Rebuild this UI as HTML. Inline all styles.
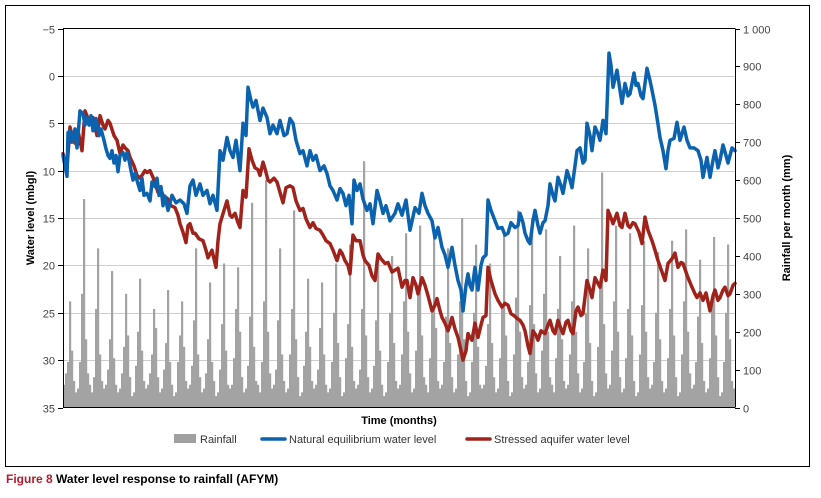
<!DOCTYPE html>
<html><head><meta charset="utf-8"><style>
body{margin:0;background:#fff;}
svg{display:block;font-family:"Liberation Sans",sans-serif;}
</style></head><body>
<svg id="chart" width="821" height="498" viewBox="0 0 821 498" xmlns="http://www.w3.org/2000/svg">
<rect x="5.5" y="5.5" width="804" height="461" fill="none" stroke="#000" stroke-width="1"/>
<g id="grid"></g>
<g id="bars"></g>
<g id="lines"></g>
<g id="axes"></g>
<text x="34" y="218" transform="rotate(-90 34 218)" text-anchor="middle" font-size="11" font-weight="bold">Water level (mbgl)</text>
<text x="790" y="218" transform="rotate(-90 790 218)" text-anchor="middle" font-size="11" font-weight="bold">Rainfall per month (mm)</text>
<text x="399" y="424" text-anchor="middle" font-size="11" font-weight="bold">Time (months)</text>
<g>
<g><rect x="174" y="434" width="22" height="9" fill="#a0a0a0"/><text x="200" y="443" font-size="11" fill="#333">Rainfall</text></g>
<g><line x1="262" y1="439" x2="285" y2="439" stroke="#0b62ae" stroke-width="3.5" stroke-linecap="round"/><text x="289" y="443" font-size="11" fill="#333">Natural equilibrium water level</text></g>
<g><line x1="467" y1="439" x2="490" y2="439" stroke="#a0231b" stroke-width="3.5" stroke-linecap="round"/><text x="494" y="443" font-size="11" fill="#333">Stressed aquifer water level</text></g>
</g>
<text x="6" y="483" font-size="12" font-weight="bold"><tspan fill="#b01c2e">Figure 8</tspan> Water level response to rainfall (AFYM)</text>
</svg>
<script>
const leftTicks=[-5,0,5,10,15,20,25,30,35];
const rightTicks=[0,100,200,300,400,500,600,700,800,900,1000];
const rightTickLabels=["0","100","200","300","400","500","600","700","800","900","1 000"];
const rainfall=[60,90,120,280,150,70,40,50,120,300,550,180,90,60,40,80,260,420,140,70,50,60,100,180,360,130,60,40,50,90,160,300,190,80,30,40,110,200,340,150,70,50,60,90,140,260,210,80,40,50,100,170,310,120,60,30,40,120,190,280,160,70,50,60,110,230,420,140,80,40,50,90,180,330,120,70,30,40,100,220,380,150,60,50,60,130,260,370,200,80,40,50,110,240,540,160,70,60,40,120,280,600,200,90,50,60,100,230,420,140,70,40,50,140,260,520,180,80,30,40,110,200,340,160,70,50,60,100,210,330,140,60,40,50,120,250,380,170,80,30,40,130,220,430,160,70,50,60,100,260,650,190,80,40,50,110,230,390,150,60,30,40,120,250,400,170,70,50,60,140,280,460,200,90,40,50,150,300,480,190,80,60,40,130,260,470,210,70,50,60,120,240,420,170,80,40,50,140,280,500,180,70,30,40,120,250,430,160,60,50,60,110,220,380,170,80,40,50,130,260,460,190,70,30,40,140,290,520,200,80,50,60,120,270,500,220,90,40,50,150,300,470,200,80,60,40,130,260,400,180,70,50,60,140,280,480,200,90,40,50,120,250,420,170,70,30,40,160,320,620,220,90,50,60,150,280,480,200,80,40,50,130,260,460,190,70,30,40,140,270,440,200,80,50,60,120,250,410,180,70,40,50,130,260,440,190,80,30,40,140,280,470,200,90,50,60,120,240,390,170,70,40,50,130,270,450,190,80,30,40,120,250,430,180,70,50];
const naturalT=[0,4,5,7,9,12,14,17,20,22,24,26,28,30,33,36,38,41,43,45,47,49,51,53,55,57,60,62,64,66,68,70,72,75,77,79,81,84,87,89,92,94,96,98,100,102,105,109,113,117,121,124,127,130,133,137,140,144,147,150,154,157,160,164,167,170,173,177,180,183,185,188,190,193,197,200,204,207,210,214,217,221,224,227,230,233,237,240,244,247,250,253,257,261,264,267,270,274,277,280,283,286,289,291,294,297,300,304,307,310,314,317,320,323,327,332,335,339,343,347,352,356,359,362,365,369,372,375,379,382,385,389,392,395,398,400,403,405,407,409,412,415,418,420,423,425,428,432,435,439,442,445,448,452,455,457,460,462,465,467,470,472,475,477,480,482,485,487,490,492,495,498,500,504,507,509,512,514,517,520,522,524,527,529,532,535,537,540,543,546,548,550,554,557,559,562,565,567,571,573,575,578,580,584,587,589,592,594,597,600,603,605,607,611,614,617,621,624,627,631,635,638,640,644,647,650,652,655,657,660,663,665,669,672];
const naturalV=[8.4,10.6,6.0,5.8,7.0,5.6,7.6,3.7,4.0,5.2,4.4,5.2,4.2,5.8,4.5,6.3,5.6,6.8,7.7,8.4,8.7,7.9,9.2,8.4,10.1,8.4,8.1,8.9,8.1,8.9,10.0,11.0,10.3,11.4,12.1,10.8,12.6,12.4,13.2,11.2,11.7,10.8,12.6,11.7,13.7,12.7,14.2,12.6,13.4,13.1,13.5,14.5,11.6,11.0,12.6,11.4,12.6,12.1,13.5,12.6,14.2,7.9,8.9,6.5,7.9,8.6,6.8,10.0,5.0,6.3,1.2,2.6,3.3,2.6,4.7,3.4,4.4,6.1,5.2,6.1,4.7,6.3,6.1,4.5,5.0,6.8,8.2,7.9,9.5,7.9,8.9,8.4,10.0,9.5,10.3,11.6,12.1,13.1,11.9,12.4,13.7,12.6,15.6,11.0,12.1,11.4,13.0,14.2,13.5,15.6,12.1,13.2,14.5,13.7,15.3,14.5,13.5,14.7,13.1,16.3,13.9,14.5,12.4,13.7,14.5,15.3,17.1,16.0,18.1,18.9,20.2,18.1,20.0,21.6,22.6,24.8,22.1,20.9,22.1,22.6,20.2,22.6,20.0,19.2,18.9,13.1,14.2,15.3,16.1,16.0,16.8,16.6,15.5,16.0,15.8,14.5,15.5,16.6,17.4,17.7,15.3,14.2,15.8,16.6,15.5,15.3,13.7,11.4,12.6,13.2,10.7,11.6,12.4,10.0,11.0,11.8,9.5,7.9,7.6,9.2,8.9,5.0,6.3,7.9,5.4,6.1,6.8,4.7,6.1,-2.4,-1.1,1.2,-0.6,1.5,2.9,0.8,2.1,1.9,-0.3,1.0,0.8,2.1,2.4,-0.8,0.5,1.5,3.1,4.4,6.5,7.9,9.8,7.9,6.8,6.6,4.9,6.8,5.4,6.8,7.6,7.6,7.9,8.9,10.7,8.6,10.7,8.9,7.9,9.7,8.9,7.3,8.4,9.2,7.6,7.9];
const stressedT=[0,4,7,10,12,15,19,22,25,27,30,34,37,40,42,45,47,51,54,57,60,62,65,67,71,74,77,79,82,84,87,90,93,95,99,102,104,108,112,115,117,120,123,125,127,130,132,136,140,143,145,149,153,155,157,161,164,167,169,172,175,177,180,183,186,189,192,195,197,200,202,205,207,211,214,217,220,223,227,230,233,237,240,243,247,250,253,257,260,263,267,270,274,277,279,282,285,287,290,293,297,300,302,306,309,312,315,318,322,325,329,332,335,339,342,344,347,350,353,355,359,362,365,369,372,374,377,379,382,385,387,389,392,395,398,400,403,405,407,409,412,415,418,420,423,425,428,432,435,439,442,445,448,451,454,457,460,462,465,467,470,473,475,478,482,485,487,490,492,495,498,500,503,505,508,510,513,515,518,520,524,527,529,532,535,537,540,543,545,548,550,554,557,559,562,565,567,570,572,576,579,582,585,589,592,595,599,602,605,609,612,615,618,620,623,625,629,632,634,637,640,643,647,650,652,655,657,660,662,665,667,670,672];
const stressedV=[8.2,9.7,5.4,6.8,7.1,5.8,7.9,3.7,4.5,5.0,4.4,6.3,4.2,5.2,5.6,4.7,5.0,6.3,6.8,8.2,7.3,7.6,7.9,8.6,9.5,10.5,10.8,10.5,10.0,10.2,10.0,10.7,11.6,12.3,12.3,13.2,12.9,13.7,13.9,14.7,15.6,16.5,17.6,15.8,15.6,16.6,16.6,17.2,17.4,18.4,19.2,18.4,20.2,17.4,15.6,14.2,13.2,14.7,14.9,14.5,15.5,16.0,12.1,12.8,7.7,8.9,9.7,9.9,10.5,9.1,9.8,11.0,11.2,10.8,11.2,12.3,13.4,11.8,11.6,11.8,13.2,14.2,14.0,15.1,16.0,15.5,16.1,16.3,16.8,17.4,17.7,18.4,19.5,18.4,18.7,19.5,20.0,20.9,16.8,17.4,17.4,18.9,19.5,20.0,21.1,21.6,18.8,19.3,19.8,19.7,20.7,20.5,20.3,22.3,21.6,21.6,23.4,21.3,22.1,23.0,21.3,22.1,23.2,24.8,24.2,23.5,24.8,25.5,26.1,26.9,26.3,25.5,26.7,27.6,29.0,30.0,29.0,27.2,27.6,27.9,26.1,27.6,26.3,25.5,25.3,20.2,21.6,23.0,23.7,24.4,24.0,24.2,25.1,25.3,25.6,25.8,26.3,26.9,28.5,29.3,26.9,27.4,27.9,26.9,27.2,26.3,25.8,26.9,27.2,25.8,26.7,27.2,26.0,25.8,26.9,27.2,24.8,24.4,25.3,25.1,21.6,22.6,23.4,21.3,21.9,22.3,20.5,21.6,14.2,15.0,15.6,14.5,15.8,16.0,14.5,15.8,16.0,15.5,15.6,16.5,17.7,14.9,16.3,17.4,18.4,19.5,20.7,21.6,19.8,19.3,18.7,20.2,19.7,19.8,20.7,21.3,22.3,23.0,23.4,22.9,23.7,22.9,24.8,23.2,22.6,23.7,23.4,22.6,22.3,23.2,23.0,22.1,21.9];

const NS='http://www.w3.org/2000/svg';
const X0=63,X1=735,Y0=28.5,Y1=407.5,TMAX=672;
function xScale(t){return X0+t*(X1-X0)/TMAX;}
function yLeft(v){return Y0+(v+5)*(Y1-Y0)/40;}
function yRight(v){return Y1-v*(Y1-Y0)/1000;}
function mk(tag,attrs,parent){const e=document.createElementNS(NS,tag);for(const k in attrs)e.setAttribute(k,attrs[k]);parent.appendChild(e);return e;}
const grid=document.getElementById('grid'),bars=document.getElementById('bars'),lines=document.getElementById('lines'),axes=document.getElementById('axes');
leftTicks.forEach(v=>{
  const y=Math.round(yLeft(v))+0.5;
  if(v>-5&&v<35){const g=mk('line',{x1:X0,x2:X1,y1:y,y2:y,stroke:'#cfcfcf','stroke-width':1},grid);
  
  }
  const t=mk('line',{x1:X0-5,x2:X0,y1:y,y2:y,stroke:'#000'},axes);
  
  
  const l=mk('text',{x:X0-8,y:y+4,'text-anchor':'end','font-size':11,fill:'#444'},axes);
  l.textContent=v<0?'\u2212'+(-v):String(v);
  
  
});
rightTicks.forEach((v,i)=>{
  const y=Math.round(yRight(v))+0.5;
  const t=mk('line',{x1:X1,x2:X1+5,y1:y,y2:y,stroke:'#000'},axes);
  
  
  const l=mk('text',{x:X1+8,y:y+4,'font-size':11,fill:'#444'},axes);
  l.textContent=rightTickLabels[i];
  
  
});
const bw=(X1-X0)/rainfall.length;
rainfall.forEach((v,i)=>{
  const y=yRight(v);
  const b=mk('rect',{x:X0+i*bw,y:y,width:bw+0.2,height:Y1-y,fill:'#a3a3a3'},bars);
  
  
});
function drawLine(T,V,color,name){
  const d=T.map((t,i)=>(i?'L':'M')+xScale(t).toFixed(1)+' '+yLeft(V[i]).toFixed(1)).join(' ');
  const p=mk('path',{d:d,fill:'none',stroke:color,'stroke-width':3.5,'stroke-linejoin':'round','stroke-linecap':'round'},lines);
  
  
}
drawLine(stressedT,stressedV,'#a0231b','stressed-aquifer-line');
drawLine(naturalT,naturalV,'#0b62ae','natural-equilibrium-line');
mk('line',{x1:X0,x2:X1,y1:Y0,y2:Y0,stroke:'#000'},axes);
mk('line',{x1:X0,x2:X1,y1:Y1,y2:Y1,stroke:'#000'},axes);
mk('line',{x1:X0+0.5,x2:X0+0.5,y1:Y0,y2:Y1,stroke:'#000'},axes);
mk('line',{x1:X1+0.5,x2:X1+0.5,y1:Y0,y2:Y1,stroke:'#000'},axes);
</script>
</body></html>
